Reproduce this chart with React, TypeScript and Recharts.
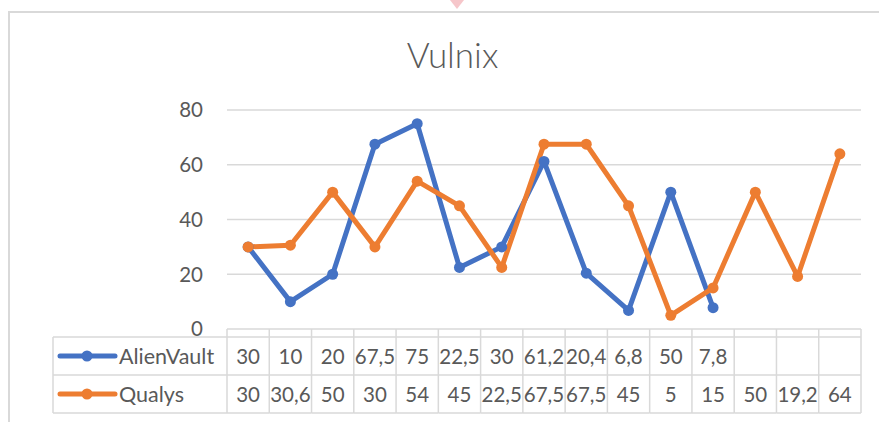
import { LineChart, Line, XAxis, YAxis, CartesianGrid } from "recharts";

const categories = ["1", "2", "3", "4", "5", "6", "7", "8", "9", "10", "11", "12", "13", "14", "15"];
const alienVault = [30, 10, 20, 67.5, 75, 22.5, 30, 61.2, 20.4, 6.8, 50, 7.8, null, null, null];
const qualys = [30, 30.6, 50, 30, 54, 45, 22.5, 67.5, 67.5, 45, 5, 15, 50, 19.2, 64];
const yTicks = [0, 20, 40, 60, 80];

const data = categories.map((c, i) => ({ cat: c, AlienVault: alienVault[i], Qualys: qualys[i] }));

const BLUE = "#4472C4";
const ORANGE = "#ED7D31";
const GRID = "#d9d9d9";
const TEXT = "#595959";
const FONT = "Lato, 'Open Sans', sans-serif";

const fmt = (v: number | null) => (v == null ? "" : String(v).replace(".", ","));

const series = [
  { name: "AlienVault", values: alienVault, color: BLUE },
  { name: "Qualys", values: qualys, color: ORANGE },
];

// data table drawn under the plot, one column per category tick
const TableTick = (props: any) => {
  const { x, y, payload } = props;
  const i = payload.index;
  const half = 634 / 15 / 2;
  const top = y;
  const r1 = top + 8;
  const r2 = r1 + 38;
  const r3 = r2 + 38;
  const legLeft = x - half - 174;
  return (
    <g>
      <line x1={x + half} y1={top} x2={x + half} y2={r3} stroke={GRID} strokeWidth={1.5} />
      {i === 0 && <line x1={x - half} y1={top} x2={x - half} y2={r3} stroke={GRID} strokeWidth={1.5} />}
      {[r1, r2, r3].map((yy) => (
        <line key={yy} x1={x - half} y1={yy} x2={x + half} y2={yy} stroke={GRID} strokeWidth={1.5} />
      ))}
      {series.map((s, k) => (
        <text
          key={s.name}
          x={x}
          y={r1 + 19 + k * 38}
          textAnchor="middle"
          dominantBaseline="central"
          fill={TEXT}
          fontSize={20.5}
          fontFamily={FONT}
        >
          {fmt(s.values[i])}
        </text>
      ))}
      {i === 0 && (
        <g>
          <line x1={legLeft} y1={r1} x2={legLeft} y2={r3} stroke={GRID} strokeWidth={1.5} />
          {[r1, r2, r3].map((yy) => (
            <line key={yy} x1={legLeft} y1={yy} x2={x - half} y2={yy} stroke={GRID} strokeWidth={1.5} />
          ))}
          {series.map((s, k) => {
            const cy = r1 + 19 + k * 38;
            return (
              <g key={s.name}>
                <line x1={legLeft + 7} y1={cy} x2={legLeft + 62} y2={cy} stroke={s.color} strokeWidth={5} strokeLinecap="round" />
                <circle cx={legLeft + 34} cy={cy} r={5.5} fill={s.color} />
                <text x={legLeft + 66} y={cy} dominantBaseline="central" fill={TEXT} fontSize={21.5} fontFamily={FONT}>
                  {s.name}
                </text>
              </g>
            );
          })}
        </g>
      )}
    </g>
  );
};

const App = () => {
  return (
    <div style={{ position: "absolute", left: 0, top: 0, width: 879, height: 422, background: "#fff", overflow: "hidden" }}>
      <div
        style={{
          position: "absolute",
          left: 8,
          top: 11,
          width: 900,
          height: 430,
          borderLeft: `2px solid ${GRID}`,
          borderTop: `2px solid ${GRID}`,
        }}
      />
      <svg style={{ position: "absolute", left: 449, top: 0 }} width={16} height={10}>
        <path d="M1 0 L15 0 L8 9 Z" fill="#f4b8bd" opacity={0.8} />
      </svg>
      <div
        style={{
          position: "absolute",
          left: 0,
          width: 905,
          top: 33,
          textAlign: "center",
          fontFamily: FONT,
          fontWeight: 300,
          fontSize: 35,
          color: TEXT,
        }}
      >
        Vulnix
      </div>
      <div style={{ position: "absolute", left: 0, top: 0 }}>
        <LineChart width={879} height={422} data={data} margin={{ top: 110, right: 18, left: 167, bottom: 0 }}>
          <CartesianGrid vertical={false} stroke={GRID} strokeWidth={1.5} />
          <XAxis
            dataKey="cat"
            height={93}
            axisLine={false}
            tickLine={false}
            tickSize={0}
            tickMargin={0}
            interval={0}
            padding={{ left: 634 / 30, right: 634 / 30 }}
            tick={<TableTick />}
          />
          <YAxis
            width={60}
            domain={[0, 80]}
            ticks={yTicks}
            axisLine={false}
            tickLine={false}
            tickSize={0}
            tickMargin={24}
            tick={{ fill: TEXT, fontSize: 20.5, fontFamily: FONT }}
          />
          <Line
            dataKey="AlienVault"
            stroke={BLUE}
            strokeWidth={5}
            strokeLinejoin="round"
            dot={{ r: 5.5, fill: BLUE, stroke: BLUE, strokeWidth: 0 }}
            isAnimationActive={false}
          />
          <Line
            dataKey="Qualys"
            stroke={ORANGE}
            strokeWidth={5}
            strokeLinejoin="round"
            dot={{ r: 5.5, fill: ORANGE, stroke: ORANGE, strokeWidth: 0 }}
            isAnimationActive={false}
          />
        </LineChart>
      </div>
    </div>
  );
};

export default App;
